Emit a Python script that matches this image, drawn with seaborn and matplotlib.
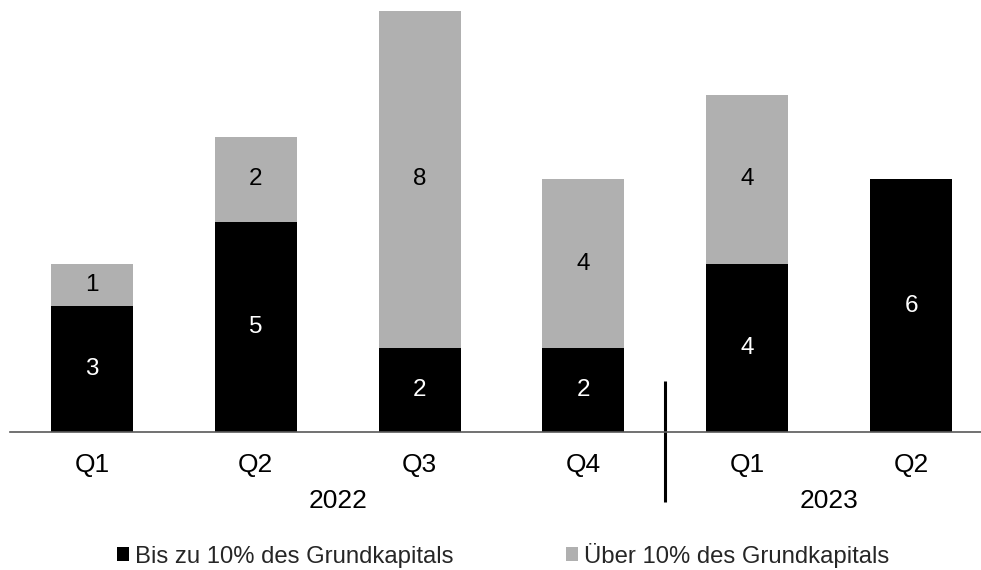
import matplotlib
matplotlib.use("Agg")
import matplotlib.pyplot as plt
import seaborn as sns
import pandas as pd
from matplotlib.patches import Patch

sns.set_theme(style="white")
plt.rcParams['font.family'] = ['Liberation Sans', 'DejaVu Sans']

quarters = ["Q1", "Q2", "Q3", "Q4", "Q1", "Q2"]
years = ["2022", "2023"]
year_groups = [[0, 1, 2, 3], [4, 5]]
bis_10 = [3, 5, 2, 2, 4, 6]
ueber_10 = [1, 2, 8, 4, 4, 0]
series_names = ["Bis zu 10% des Grundkapitals", "Über 10% des Grundkapitals"]

BLACK = "#000000"
GRAY = "#B0B0B0"
FS_AX = 19
FS_VAL = 17.5
FS_LEG = 17.2

keys = [f"{i}_{q}" for i, q in enumerate(quarters)]
totals = [a + b for a, b in zip(bis_10, ueber_10)]
df = pd.DataFrame({"key": keys, "bis": bis_10, "ueber": ueber_10, "total": totals})

fig = plt.figure(figsize=(9.81, 5.70), dpi=100)
ax = fig.add_axes([10 / 981, 138 / 570, 983 / 981, 421 / 570])

sns.barplot(data=df, x="key", y="total", order=keys, color=GRAY, width=0.5,
            saturation=1, ax=ax, linewidth=0, edgecolor="none")
sns.barplot(data=df, x="key", y="bis", order=keys, color=BLACK, width=0.5,
            saturation=1, ax=ax, linewidth=0, edgecolor="none")

ax.set_xlim(-0.5, 5.5)
ax.set_ylim(0, 10)
ax.set_xlabel("")
ax.set_ylabel("")
ax.set_yticks([])
ax.set_xticks(range(len(quarters)))
ax.set_xticklabels(quarters, fontsize=FS_AX, color="black")
ax.tick_params(axis="x", length=0, pad=15)
for s in ["top", "left", "right"]:
    ax.spines[s].set_visible(False)
ax.spines["bottom"].set_color("#595959")
ax.spines["bottom"].set_linewidth(1.2)

for i in range(len(quarters)):
    b, u = bis_10[i], ueber_10[i]
    if b > 0:
        ax.text(i, b / 2, str(b), ha="center", va="center", color="white", fontsize=FS_VAL)
    if u > 0:
        ax.text(i, b + u / 2, str(u), ha="center", va="center", color="black", fontsize=FS_VAL)

# year labels
for yr, grp in zip(years, year_groups):
    cx = (grp[0] + grp[-1]) / 2
    ax.text(cx, -1.65, yr, ha="center", va="center", fontsize=FS_AX, color="black")

# divider
ax.plot([3.5, 3.5], [1.21, -1.67], color="black", linewidth=2.2, clip_on=False,
        solid_capstyle="butt")

handles = [Patch(facecolor=BLACK, edgecolor="none"), Patch(facecolor=GRAY, edgecolor="none")]
fig.legend(handles, series_names, loc="center", bbox_to_anchor=(503 / 981, 1 - 555 / 570),
           ncol=2, frameon=False, fontsize=FS_LEG, handlelength=0.5, handleheight=0.5,
           handletextpad=0.25, columnspacing=4.7)

fig.savefig("out.png", dpi=100)
